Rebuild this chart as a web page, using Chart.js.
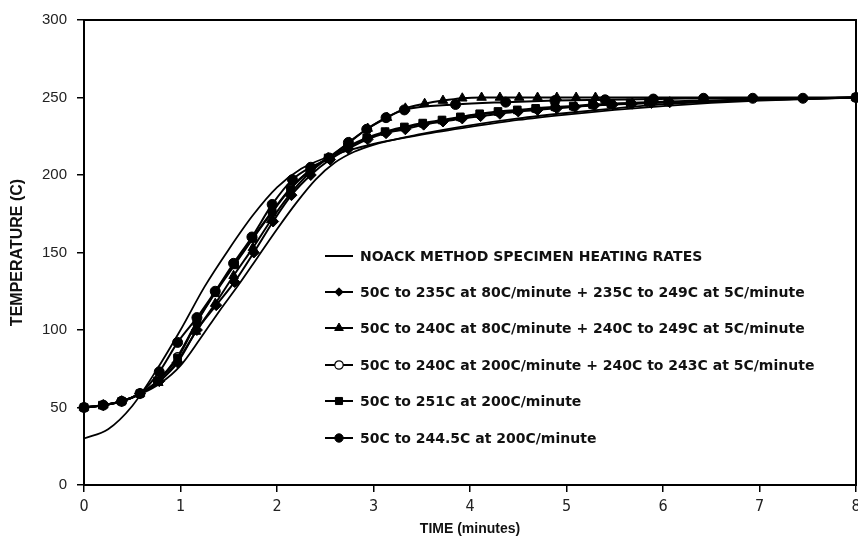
<!DOCTYPE html>
<html>
<head>
<meta charset="utf-8">
<script src="https://cdn.jsdelivr.net/npm/chart.js@4/dist/chart.umd.min.js"></script>
<style>
  html, body { margin: 0; padding: 0; background: #fff; }
  #wrap { position: relative; width: 858px; height: 540px; overflow: hidden; }
  #legend { position: absolute; left: 322px; top: 237.5px; font-family: "DejaVu Sans", Verdana, sans-serif; font-weight: bold; font-size: 14px; color: #111; }
  .row { display: flex; align-items: center; height: 36.4px; white-space: nowrap; }
  .row canvas { margin-right: 4px; }
</style>
</head>
<body>
<div id="wrap">
  <canvas id="c" width="858" height="540"></canvas>
  <div id="legend"></div>
</div>
<script>
// ---------- data ----------
const seriesNames = [
  'NOACK METHOD SPECIMEN HEATING RATES',
  '50C to 235C at 80C/minute + 235C to 249C at 5C/minute',
  '50C to 240C at 80C/minute + 240C to 249C at 5C/minute',
  '50C to 240C at 200C/minute + 240C to 243C at 5C/minute',
  '50C to 251C at 200C/minute',
  '50C to 244.5C at 200C/minute'
];

const xTicks = [0, 1, 2, 3, 4, 5, 6, 7, 8];
const yTicks = [0, 50, 100, 150, 200, 250, 300];

// NOACK specimen heating-rate envelope (two unmarked curves)
const noackUpperTime = [0, 0.25, 0.5, 0.75, 1.0, 1.25, 1.5, 1.75, 2.0, 2.25, 2.5, 2.75, 3.0, 3.5, 4.0, 4.5, 5.0, 5.5, 6.0, 6.5, 7.0, 7.5, 8.0];
const noackUpperTemp = [30, 36, 51, 74, 100, 128, 152, 174, 192, 204, 211, 216, 220, 226, 231, 235.5, 239, 242, 244.5, 246.5, 248, 249, 250];

const noackLowerTime = [0, 0.2, 0.4, 0.6, 0.8, 1.0, 1.2, 1.4, 1.6, 1.8, 2.0, 2.2, 2.4, 2.6, 2.8, 3.0, 3.5, 4.0, 4.5, 5.0, 5.5, 6.0, 7.0, 8.0];
const noackLowerTemp = [50, 51.5, 54, 59, 66, 77, 94, 112, 129, 147, 165, 182, 197, 208, 215, 219.5, 226.5, 232, 236.5, 240, 243, 245.5, 248.5, 250];

// 50C to 235C at 80C/minute + 235C to 249C at 5C/minute (diamonds)
const diamondTime = [0, 0.2, 0.39, 0.58, 0.78, 0.97, 1.17, 1.37, 1.56, 1.76, 1.96, 2.15, 2.35, 2.55, 2.74, 2.94, 3.13, 3.33, 3.52, 3.72, 3.92, 4.11, 4.31, 4.5, 4.7, 4.9, 5.09, 5.29, 5.48, 5.68, 5.88, 6.07, 8.0];
const diamondTemp = [50, 51.5, 54, 59, 67, 79, 100, 116, 131, 150, 170, 187, 200, 210, 217, 223, 227, 229.5, 232.5, 234.5, 236.5, 238, 239.5, 241, 242, 243, 244, 245, 245.5, 246, 246.5, 247, 250];

// 50C to 240C at 80C/minute + 240C to 249C at 5C/minute (triangles)
const triangleTime = [0, 0.2, 0.39, 0.58, 0.77, 0.97, 1.16, 1.36, 1.55, 1.75, 1.94, 2.14, 2.33, 2.53, 2.75, 2.94, 3.14, 3.33, 3.53, 3.72, 3.92, 4.12, 4.31, 4.51, 4.7, 4.9, 5.1, 5.3, 8.0];
const triangleTemp = [50, 51.5, 54, 59, 66, 80, 99, 117, 135, 153, 171, 188, 201, 211, 221, 230, 237, 243, 246, 248, 249.5, 250, 250, 250, 250, 250, 250, 250, 250];

// 50C to 240C at 200C/minute + 240C to 243C at 5C/minute (open circles, largely hidden under the squares)
const openCircleTime = [0, 0.19, 0.39, 0.58, 0.76, 0.97, 1.17, 1.36, 1.56, 1.75, 1.95, 2.14, 2.34, 2.53, 2.73, 2.93, 3.12, 3.32, 3.51, 3.71, 3.9, 4.1, 4.29, 4.49, 4.68, 4.88, 5.07, 5.27, 5.46, 5.66, 5.85, 6.05, 8.0];
const openCircleTemp = [50, 51.5, 54, 59, 67, 83, 105.5, 124.5, 142.5, 159.5, 176.5, 191.5, 203, 211, 218, 223.5, 227.5, 230.5, 233, 235, 237, 239, 240.5, 241.5, 242.5, 243.5, 244, 245, 245.5, 246, 246.5, 247, 250];

// 50C to 251C at 200C/minute (squares)
const squareTime = [0, 0.19, 0.39, 0.58, 0.76, 0.97, 1.17, 1.36, 1.56, 1.75, 1.95, 2.14, 2.34, 2.53, 2.73, 2.93, 3.12, 3.32, 3.51, 3.71, 3.9, 4.1, 4.29, 4.49, 4.68, 4.88, 5.07, 5.27, 5.46, 5.66, 5.85, 6.05, 8.0];
const squareTemp = [50, 51.5, 54, 59, 67, 82, 105, 124, 142, 159, 176, 191, 203, 211, 218, 224, 228, 231, 233.5, 235.5, 237.5, 239.5, 241, 242, 243, 244, 244.5, 245.5, 246, 246.5, 247, 247.5, 250];

// 50C to 244.5C at 200C/minute (filled circles)
const circleTime = [0, 0.2, 0.39, 0.58, 0.78, 0.97, 1.17, 1.36, 1.55, 1.74, 1.95, 2.16, 2.35, 2.54, 2.74, 2.93, 3.13, 3.32, 3.85, 4.37, 4.88, 5.4, 5.9, 6.42, 6.93, 7.45, 8.0];
const circleTemp = [50, 51.5, 54, 59, 73, 92, 108, 125, 143, 160, 181, 197, 205, 211, 221, 229.5, 237, 242, 245.5, 247, 248, 248.5, 249, 249.5, 249.5, 249.5, 250];

// ---------- build datasets ----------
const pts = (xs, ys) => xs.map((x, i) => ({ x: x, y: ys[i] }));

const base = {
  borderColor: '#000',
  borderWidth: 2,
  pointBackgroundColor: '#000',
  pointBorderColor: '#000',
  pointBorderWidth: 1,
  cubicInterpolationMode: 'monotone',
  clip: false,
  fill: false
};

const datasets = [
  Object.assign({}, base, { label: seriesNames[0], data: pts(noackUpperTime, noackUpperTemp), pointRadius: 0, order: 6, borderWidth: 1.8 }),
  Object.assign({}, base, { label: seriesNames[0], data: pts(noackLowerTime, noackLowerTemp), pointRadius: 0, order: 7, borderWidth: 1.8, hideInLegend: true }),
  Object.assign({}, base, { label: seriesNames[1], data: pts(diamondTime, diamondTemp), pointStyle: 'rectRot', pointRadius: 5.5, order: 3 }),
  Object.assign({}, base, { label: seriesNames[2], data: pts(triangleTime, triangleTemp), pointStyle: 'triangle', pointRadius: 5.5, order: 1 }),
  Object.assign({}, base, { label: seriesNames[3], data: pts(openCircleTime, openCircleTemp), pointStyle: 'circle', pointRadius: 3.8, pointBackgroundColor: '#fff', pointBorderWidth: 1.2, order: 5 }),
  Object.assign({}, base, { label: seriesNames[4], data: pts(squareTime, squareTemp), pointStyle: 'rect', pointRadius: 5.4, order: 2 }),
  Object.assign({}, base, { label: seriesNames[5], data: pts(circleTime, circleTemp), pointStyle: 'circle', pointRadius: 5, order: 0 })
];

const framePlugin = {
  id: 'frame',
  beforeDatasetsDraw(chart) {
    const a = chart.chartArea, ctx = chart.ctx;
    ctx.save();
    ctx.strokeStyle = '#000';
    ctx.lineWidth = 2;
    ctx.strokeRect(a.left, a.top, a.right - a.left, a.bottom - a.top);
    ctx.restore();
  }
};

const tickFontY = { family: '"Liberation Sans", Arial, sans-serif', size: 15 };
const tickFontX = { family: '"Liberation Sans Narrow", "DejaVu Sans Condensed", "Liberation Sans", sans-serif', size: 16 };
const xTitleFont = { family: '"Liberation Sans", Arial, sans-serif', size: 14, weight: 'bold' };
const yTitleFont = { family: '"Liberation Sans", Arial, sans-serif', size: 16, weight: 'bold' };

const chart = new Chart(document.getElementById('c'), {
  type: 'line',
  data: { datasets: datasets },
  options: {
    responsive: false,
    animation: false,
    layout: { autoPadding: false, padding: { left: 0, top: 20, right: 2, bottom: 0 } },
    plugins: { legend: { display: false }, tooltip: { enabled: false } },
    scales: {
      x: {
        type: 'linear',
        min: xTicks[0],
        max: xTicks[xTicks.length - 1],
        afterBuildTicks: s => { s.ticks = xTicks.map(v => ({ value: v })); },
        ticks: { color: '#222', font: tickFontX, padding: 5, maxRotation: 0, autoSkip: false },
        grid: { drawOnChartArea: false, drawTicks: true, tickLength: 7, color: '#000', lineWidth: 1.5 },
        border: { color: '#000', width: 2 },
        title: { display: true, text: 'TIME (minutes)', color: '#111', font: xTitleFont, padding: { top: 2, bottom: 2 } },
        afterFit: s => { s.height = 55; s.paddingLeft = 0; s.paddingRight = 0; }
      },
      y: {
        type: 'linear',
        min: yTicks[0],
        max: yTicks[yTicks.length - 1],
        afterBuildTicks: s => { s.ticks = yTicks.map(v => ({ value: v })); },
        ticks: { color: '#222', font: tickFontY, padding: 10 },
        grid: { drawOnChartArea: false, drawTicks: true, tickLength: 7, color: '#000', lineWidth: 1.5 },
        border: { color: '#000', width: 2 },
        title: { display: true, text: 'TEMPERATURE (C)', color: '#111', font: yTitleFont, padding: { top: 8, bottom: 0 } },
        afterFit: s => { s.width = 84; s.paddingTop = 0; s.paddingBottom = 0; }
      }
    }
  },
  plugins: [framePlugin]
});

// ---------- HTML legend built from the chart's datasets ----------
function drawMarker(c, style, x, y, r, fill, lw) {
  c.beginPath();
  if (style === 'circle') {
    c.arc(x, y, r, 0, Math.PI * 2);
  } else if (style === 'triangle') {
    c.moveTo(x, y - r);
    c.lineTo(x + r * 0.866, y + r * 0.5);
    c.lineTo(x - r * 0.866, y + r * 0.5);
    c.closePath();
  } else if (style === 'rectRot') {
    c.moveTo(x, y - r); c.lineTo(x + r, y); c.lineTo(x, y + r); c.lineTo(x - r, y); c.closePath();
  } else if (style === 'rect') {
    const h = r * Math.SQRT1_2;
    c.rect(x - h, y - h, 2 * h, 2 * h);
  }
  c.fillStyle = fill;
  c.fill();
  c.lineWidth = lw;
  c.strokeStyle = '#000';
  c.stroke();
}

const legendEl = document.getElementById('legend');
chart.data.datasets.forEach(ds => {
  if (ds.hideInLegend) return;
  const row = document.createElement('div');
  row.className = 'row';
  const cv = document.createElement('canvas');
  cv.width = 34; cv.height = 20;
  const c = cv.getContext('2d');
  c.strokeStyle = '#000'; c.lineWidth = 2;
  c.beginPath(); c.moveTo(3, 10); c.lineTo(31, 10); c.stroke();
  if (ds.pointRadius > 0) {
    const r = ds.pointStyle === 'triangle' ? 5 : (ds.pointStyle === 'rect' ? 5 : 4.2);
    drawMarker(c, ds.pointStyle, 17, 10, r, ds.pointBackgroundColor, Math.max(1, ds.pointBorderWidth));
  }
  const span = document.createElement('span');
  span.textContent = ds.label;
  row.appendChild(cv);
  row.appendChild(span);
  legendEl.appendChild(row);
});
</script>
</body>
</html>
